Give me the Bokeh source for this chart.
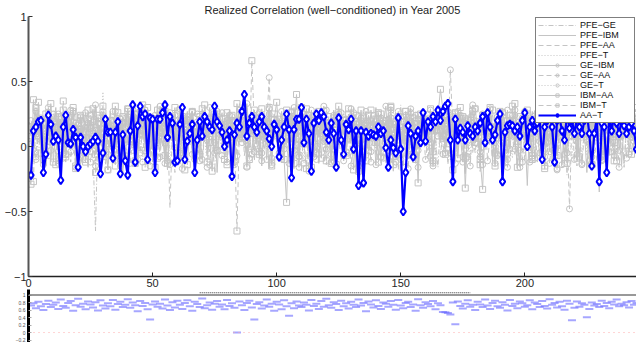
from bokeh.plotting import figure
from bokeh.models import (ColumnDataSource, Range1d, FixedTicker, Legend, LegendItem,
                          Span, CustomJSTickFormatter)
from bokeh.layouts import column
from bokeh.embed import file_html
from bokeh.resources import INLINE

TITLE = "Realized Correlation (well\u2212conditioned) in Year 2005"
x_ticks = [0, 50, 100, 150, 200]
y_ticks = [-1, -0.5, 0, 0.5, 1]
panel_ticks = [-0.2, 0, 0.2, 0.4, 0.6, 0.8, 1]
names = ["PFE\u2212GE", "PFE\u2212IBM", "PFE\u2212AA", "PFE\u2212T", "GE\u2212IBM",
         "GE\u2212AA", "GE\u2212T", "IBM\u2212AA", "IBM\u2212T", "AA\u2212T"]

PFE_GE = [.10,.05,.18,-.08,.22,.12,-.15,.08,.25,.02,.14,-.05,.20,.09,-.12,.16,.28,.04,-.02,.11,
          .19,-.10,.07,.24,.13,-.06,-.65,.15,.03,.21,-.14,.09,.26,.01,.17,-.09,.12,.23,.05,-.18,
          .14,.08,.30,-.03,.11,.19,-.11,.06,.22,.13,-.07,.18,.02,.25,.10,-.16,.15,.08,.27,-.04,
          .12,.20,-.09,.05,.17,.29,.03,-.13,.16,.09,.24,-.02,.13,.07,-.20,.18,.26,.04,.11,-.06,
          .21,.10,-.12,.15,.33,.06,.19,-.05,.12,.23,.00,.16,-.10,.27,.08,.14,-.17,.20,.05,.13,
          -.08,.18,.24,.02,.11,.31,-.04,.15,.07,-.19,.22,.12,.05,.26,-.07,.17,.09,.28,-.11,.14,
          .06,.20,-.14,.10,.25,.03,.16,-.09,.21,.12,.30,-.02,.08,.18,-.15,.13,.24,.04,.19,-.06,
          .11,.27,.05,-.13,.17,.09,.22,-.04,.14,.32,.01,.18,-.10,.12,.25,.07,-.18,.20,.10,.15,
          -.03,.23,.13,.06,-.16,.19,.28,.02,.12,-.08,.21,.15,.04,.26,-.12,.10,.17,.31,-.05,.14,
          .08,-.20,.18,.24,.06,.13,-.09,.22,.11,.29,.03,-.14,.16,.20,.07,-.06,.25,.12,.18,-.11,
          .15,.05,.27,-.08,.19,.10,.23,-.15,.12,.30,.04,.17,-.07,.21,.09,.14,-.22,.18,.26,.02,
          .11,-.10,.20,.13,.28,-.05,.16,.08,.24,-.13,.19,.06,.22,.12,-.09,.17,.27,.03,.14,-.16,
          .21,.09,.15,-.04,.18]

PFE_IBM = [.15,.22,.08,.28,-.05,.19,.11,.26,-.12,.17,.30,.06,.21,-.08,.14,.24,.02,.18,.29,-.10,
           .12,.25,.07,-.16,.20,.13,.31,.04,.17,-.09,.23,.10,.27,-.03,.16,.21,.08,-.21,.14,.26,
           .05,.19,-.13,.24,.11,.29,.03,.18,-.07,.22,.14,.32,-.02,.15,.09,-.18,.20,.25,.06,.13,
           -.11,.21,.16,.27,.04,.12,-.14,.19,.23,.08,.30,-.06,.17,.11,.25,-.20,.14,.06,.22,.18,
           .28,-.09,.13,.20,.05,.24,.16,-.12,.21,.10,.26,.02,.18,-.15,.23,.12,.29,-.04,.15,.19,
           .07,.22,-.10,.17,.27,.09,-.17,.20,.14,.31,.03,.19,-.08,.24,.11,.16,-.13,.26,.06,.21,
           .13,-.06,.28,.17,.08,.23,-.11,.15,.20,.04,.27,-.16,.12,.22,.09,.25,-.03,.18,.14,.30,
           -.09,.16,.21,.07,.26,.13,-.19,.19,.24,.05,.17,-.07,.28,.11,.22,-.12,.15,.20,.08,.25,
           .14,-.14,.23,.10,.29,.03,.18,-.05,.21,.16,.26,-.10,.12,.24,.07,-.21,.19,.27,.13,.04,
           .20,-.08,.15,.25,.11,.30,-.12,.17,.22,.06,.28,.14,-.05,.19,.23,.09,-.17,.16,.26,.12,
           -.30,.21,.08,.27,.15,-.09,.24,.18,.05,.29,-.13,.12,.20,.26,.07,-.06,.22,.16,.31,.10,
           .19,-.11,.25,.13,-.20,.21,.08,.27,.16,-.35,.23,.12,.28,-.07,.17,.22,.05,.26,-.14,.18,
           .24,.11,.20,.15,.09]

PFE_AA = [.05,-.10,.12,.18,-.02,.09,-.15,.14,.03,.20,-.08,.11,.16,-.05,.07,.22,-.12,.10,.01,.15,
          -.18,.08,.19,-.03,.13,.04,-.11,.17,.06,.23,-.07,.10,.02,.16,-.14,.12,.21,-.01,.08,-.09,
          .14,.03,.18,-.16,.11,.07,.24,-.05,.13,-.12,.19,.02,.09,.15,-.08,.20,-.47,.12,-.20,.10,
          .04,.17,-.06,.13,.22,-.10,.08,.01,.16,-.13,.11,.19,-.04,.07,.14,.12,.12,.05,.21,-.02,
          .09,.18,-.15,.06,.13,.25,-.07,.10,.03,.17,-.11,.14,.08,.20,-.03,.12,-.17,.15,.05,.19,
          -.06,.11,.16,.02,-.12,.18,.09,.23,-.04,.13,.06,-.19,.15,.10,.21,-.08,.12,.04,.17,-.14,
          .08,.20,-.02,.14,.07,-.10,.18,.11,.25,-.06,.09,.15,-.16,.12,.03,.19,-.09,.13,.22,.01,
          .10,-.13,.16,.06,.21,-.04,.12,.18,-.18,.09,.14,.02,.20,-.07,.11,.17,-.12,.08,.24,.05,
          -.10,.13,.19,.03,.15,-.06,.10,.22,-.14,.07,.16,.11,-.03,.18,.05,-.21,.12,.20,.08,-.05,
          .14,.09,-.11,.17,.04,.23,-.08,.12,.06,.19,-.16,.10,.15,-.02,.21,.07,-.13,.11,.18,.03,
          .16,-.07,.09,.20,-.12,.13,.05,.24,-.04,.11,.17,-.19,.08,.14,.02,.22,-.10,.12,.06,.18,
          -.15,.10,.16,.04,.21,-.06,.13,.08,-.11,.19,.07,.15,-.03,.12,.23,-.09,.17,.05,.11,-.13,
          .14,.08,.19,.02,.12]

PFE_T = [.12,.18,.06,.24,.10,-.04,.20,.15,.08,.27,.02,.17,-.09,.13,.22,.05,.19,-.02,.14,.25,
         .09,.16,-.06,.21,.11,.28,.04,.18,.13,.42,.07,.20,-.03,.15,.26,.10,.17,-.08,.23,.12,
         .19,.05,.14,.29,-.05,.16,.22,.08,.18,-.10,.24,.13,.06,.20,.15,-.01,.27,.11,.17,.09,
         .23,-.07,.14,.19,.06,.25,.12,-.11,.18,.21,.03,.16,.28,.08,-.04,.22,.14,.10,.26,.01,
         .15,.20,-.09,.13,.24,.07,.18,.30,.05,-.06,.21,.12,.16,.09,.27,-.02,.19,.14,.23,.04,
         .11,-.08,.22,.17,.06,.26,.13,.19,-.12,.15,.24,.08,.20,.02,.17,.29,-.05,.12,.21,.14,
         .07,.25,.16,-.10,.19,.11,.28,.05,.18,.13,-.07,.22,.15,.09,.26,.03,.20,-.03,.16,.24,
         .10,.18,-.09,.23,.14,.07,.27,.12,-.04,.19,.21,.06,.15,.31,.08,-.13,.20,.16,.11,.25,
         .04,.17,.22,-.06,.14,.28,.09,.19,.13,-.11,.24,.07,.18,.12,.26,.01,.15,-.08,.21,.17,
         .08,.23,.14,-.03,.19,.27,.06,.16,-.14,.12,.25,.10,.20,.05,-.09,.22,.15,.18,.29,.03,
         .13,-.06,.21,.16,.09,.26,.12,-.18,.17,.23,.07,.14,.30,-.02,.19,.11,.24,.06,-.10,.18,
         .15,.22,.04,.17,-.07,.25,.12,.20,.08,.16,-.13,.23,.14,.19,.05,.27,-.04,.13,.21,.10,
         .17,.06,.22,.14,.09]

GE_IBM = [.20,.14,.27,.08,.22,-.06,.17,.30,.11,.19,.04,.25,.13,-.09,.21,.16,.28,.07,.18,-.12,
          .23,.10,.26,.15,-.04,.19,.32,.09,.17,.24,-.08,.14,.20,.06,.27,.12,-.15,.22,.18,.29,
          .05,.16,.25,-.10,.21,.13,.28,.08,.19,-.03,.24,.15,.31,.10,-.13,.18,.26,.07,.20,.14,
          .29,-.07,.17,.23,.11,.27,.04,.19,-.11,.25,.16,.09,.30,.13,-.05,.21,.18,.26,.02,.15,
          .24,.12,-.14,.20,.28,.07,.17,.33,.10,-.06,.22,.16,.26,.05,.19,-.10,.25,.13,.21,.08,
          .18,.27,-.02,.15,.23,.11,.30,.06,-.16,.20,.25,.14,.09,.28,-.08,.17,.22,.12,.31,.04,
          .16,-.12,.24,.19,.08,.26,.13,-.04,.21,.29,.10,.17,.23,-.09,.14,.27,.06,.20,.15,-.14,
          .25,.11,.18,.31,-.03,.22,.14,.07,.27,-.10,.19,.24,.12,.29,.05,-.07,.21,.16,.26,.09,
          .13,.28,-.15,.20,.17,.24,.06,.30,.11,-.05,.23,.18,.27,.08,-.12,.22,.14,.19,.32,.03,
          .17,-.08,.25,.12,.21,.29,.07,-.13,.19,.26,.15,.10,.28,-.02,.20,.24,.09,-.16,.18,.27,
          .06,.22,.14,-.09,.26,.19,.31,.05,.16,-.04,.24,.13,.28,.11,-.14,.21,.17,.25,.08,.30,
          -.06,.19,.23,.12,.27,-.11,.15,.22,.18,.29,.04,-.08,.20,.26,.14,.09,.31,-.03,.17,.24,
          .13,.21,.07,.25,.16]

GE_AA = [.02,.10,-.08,.15,.05,-.14,.12,.20,-.03,.08,.17,-.11,.06,.13,-.06,.19,.01,.11,-.16,.09,
         .14,-.04,.07,.18,-.12,.03,.12,.22,-.07,.10,.04,-.18,.15,.08,-.02,.13,.21,-.09,.06,.16,
         -.13,.09,.02,.17,-.05,.12,.24,.04,-.15,.11,.07,.19,-.08,.14,.03,-.11,.16,.10,-.01,.20,
         .06,-.17,.13,.08,.21,-.06,.11,.02,.18,-.10,.15,.05,-.14,.12,.23,-.03,.09,.16,.01,-.12,
         .14,.07,.19,-.07,.10,.03,.17,-.16,.12,.22,-.04,.08,.15,-.11,.06,.18,.53,-.09,.13,.20,
         -.05,.11,.04,.16,-.13,.09,.21,.01,-.08,.14,.07,.18,-.19,.12,.03,.23,-.06,.10,.15,-.02,
         .08,.19,-.11,.13,.05,.17,-.07,.11,.20,-.15,.09,.14,.02,.22,-.04,.10,.10,-.12,.16,.06,
         .18,-.08,.12,.03,.21,-.14,.09,.15,-.05,.11,.19,.04,-.17,.13,.07,.24,-.03,.10,.16,-.10,
         .05,.14,-.13,.20,.08,.12,-.06,.17,.02,.59,.11,.15,.09,.22,-.08,.13,.04,-.15,.18,.07,
         .10,-.04,.16,.21,-.11,.08,.13,.03,-.07,.19,.12,.06,-.16,.14,.24,-.02,.09,.17,-.12,.11,
         .05,.20,-.09,.13,.16,-.05,.10,.22,.03,-.13,.08,.08,-.18,.12,.19,-.06,.15,-.48,.21,-.10,
         .09,.14,-.14,.11,.18,.02,-.08,.16,.07,.23,-.11,.12,.05,.19,-.04,.10,.15,-.16,.08,.13,
         .17,-.06,.11,.04,.14]

GE_T = [.08,.16,-.10,.21,.12,.04,.18,-.07,.14,.25,.09,-.13,.17,.06,.22,.11,-.04,.19,.13,.02,
        .20,-.09,.15,.07,.24,.12,-.15,.18,.10,.03,.21,-.06,.14,.27,.08,.16,-.11,.19,.05,.23,
        .12,-.03,.17,.26,.09,-.12,.20,.14,.06,.22,-.08,.15,.11,.28,.02,.18,-.14,.13,.24,.07,
        -.05,.19,.13,.21,.04,.16,-.10,.25,.11,.18,.08,-.16,.22,.14,.03,.27,.10,-.07,.17,.20,
        .09,.23,-.12,.15,.06,.26,.13,.01,-.09,.19,.24,.11,.16,-.05,.21,.08,.29,-.14,.14,.18,
        .05,-.08,.22,.12,.17,.27,-.03,.10,.20,.15,-.13,.24,.07,.18,.11,-.10,.23,.16,.04,.28,
        .13,-.06,.19,.09,.25,.14,-.11,.21,.06,.17,.26,.02,-.15,.20,.12,.18,.08,-.04,.24,.15,
        .10,.22,-.09,.16,.05,.28,.13,-.12,.19,.23,.07,.15,-.07,.26,.11,.18,-.16,.21,.09,.14,
        .25,.03,-.11,.18,.22,.12,.08,-.05,.27,.15,.19,-.13,.10,.24,.06,.20,-.08,.16,.13,.29,
        .02,.17,-.14,.21,.11,.25,.07,.15,-.06,.19,.23,.12,-.10,.18,.08,.28,.14,-.03,.22,.16,
        .09,-.12,.20,.13,.26,.04,.17,-.08,.23,.11,.15,.06,-.17,.19,.24,.10,-.05,.21,.14,.27,
        .07,.18,-.13,.22,.12,.16,-.04,.25,.09,.20,-.10,.14,.27,.05,.18,-.07,.23,.11,.15,.19,
        -.09,.16,.21,.08,.13]

IBM_AA = [-.29,.36,.10,.34,-.05,.18,.25,.08,.33,-.12,.15,.22,.05,.28,-.08,.19,.12,.30,-.15,.16,
          .24,.07,-.10,.21,.14,.29,-.06,.17,.11,.26,.02,-.18,.20,.13,.31,.06,-.09,.23,.15,.27,
          .04,.19,-.13,.25,.10,.32,-.03,.16,.22,.08,-.16,.28,.12,.18,-.07,.24,.14,.09,.30,-.11,
          .17,.23,.05,-.14,.20,.27,.11,.16,-.06,.29,.13,.21,.03,-.19,.18,.25,.08,.14,-.10,.26,
          .12,.20,-.08,.33,.15,.06,.24,-.15,.19,.10,.28,.02,-.04,.22,.17,.13,.30,-.12,.21,.34,
          .09,.16,-.10,-.43,.18,.26,.11,.40,-.07,.21,.14,.29,.05,-.16,.23,.12,.19,-.09,.27,.15,
          .08,-.13,.22,.17,.31,.04,.20,-.05,.25,.13,-.18,.19,.10,.28,.06,-.11,.24,.16,.21,.03,
          .26,-.08,.14,.20,.09,.30,-.14,.17,.23,.12,.05,.27,-.06,.18,.22,.10,-.28,.25,.15,.07,
          .19,.12,-.04,.16,.24,.44,.28,.09,.13,.21,.06,.26,-.09,.17,.23,-.32,.14,.20,.12,.29,
          .12,-.10,-.33,.18,.07,.30,.15,-.15,.22,.27,.09,.19,-.05,.24,.13,.33,.04,-.12,.20,.17,
          .28,.10,-.07,.23,.16,.35,.06,-.17,.21,.14,.26,-.03,.19,.11,.29,-.13,.24,.08,.17,.22,
          -.09,.27,.13,.20,.05,.31,-.14,.18,.25,.36,.10,-.06,.22,.15,.28,.03,-.11,.19,.26,.14,
          .21,-.04,.17,.30,.12]

IBM_T = [.15,-.27,.30,.08,.21,-.10,.17,.26,.04,.19,-.14,.23,.11,.35,-.06,.18,.09,.27,-.17,.13,
         .22,.05,-.12,.28,.16,.10,-.20,.24,.07,.31,-.04,.14,.20,.02,-.15,.26,.12,.18,-.08,.29,
         .06,.21,-.11,.17,.25,.09,-.16,.30,.13,.19,.03,-.09,.24,.15,.27,-.13,.08,.22,.16,-.05,
         .28,.11,-.18,.20,.14,.26,.05,-.07,.23,.17,.32,-.12,.10,.19,.25,-.03,.15,.21,.08,-.14,
         .18,.24,.07,-.65,.13,.20,.27,.09,-.10,.66,.16,.22,-.06,.29,.12,.19,.04,-.15,.25,.14,
         .21,-.09,.17,.28,.06,.23,-.13,.19,.12,.30,.02,-.17,.24,.15,.20,-.05,.27,.10,.16,-.11,
         .23,.08,.18,-.14,.26,.13,.21,-.07,.29,.05,.17,.24,-.19,.11,.22,.16,-.03,.28,.09,.19,
         -.12,.25,.14,.20,.07,.31,-.08,.18,.23,.11,-.16,.27,.13,.19,.04,-.10,.24,.17,.21,.06,
         .16,.29,-.11,.22,.13,.26,.08,-.06,.20,.14,-.18,.25,.10,.30,.17,-.09,.21,.12,.27,.03,
         .19,-.14,.24,.15,.22,.07,.28,-.05,.17,.11,.26,-.12,.20,.14,.31,.09,-.16,.23,.18,.13,
         .25,.06,-.10,.21,.16,.29,.12,-.15,.24,.19,.08,.27,-.07,.14,.22,.36,-.13,.18,.26,.10,
         .17,-.08,.23,.13,.30,.05,-.14,.20,.25,.11,.18,-.04,.28,.15,.21,-.11,.24,.09,.19,.16,
         .22,.12,-.06,.18,.26]

AA_T = [-.22,.12,.15,.19,.20,-.20,-.06,.24,.17,.04,.08,.05,-.26,.15,.24,.03,.02,.13,.07,-.16,
        .07,.00,-.04,.00,.02,.04,.07,.04,-.21,-.05,.21,.11,.11,-.09,.11,.19,-.21,.09,-.11,-.22,
        .12,.32,-.12,.16,.31,.23,.25,-.10,.22,.21,-.20,.21,.21,.26,.32,.07,.23,.18,-.12,-.11,
        .17,.30,-.10,.04,.10,.17,-.20,.05,.19,.08,.23,.19,.15,.13,.31,.19,.16,.11,.00,.05,
        .12,-.23,.09,.18,.15,.27,.40,.08,.18,.23,.15,.11,.19,.23,.15,.12,.06,.00,.17,.13,
        -.08,.05,.15,.25,.13,-.24,.13,.21,.21,.30,.03,.21,.10,-.19,.18,.25,.20,.26,.23,.11,
        .05,.18,.10,-.16,.22,.05,-.06,.17,.13,.21,-.02,.12,-.30,.12,-.28,.11,.08,.10,.09,.08,
        .15,.10,.12,-.01,-.16,.05,-.01,-.05,.22,-.02,-.50,-.20,.16,.10,-.08,.08,.12,.03,.26,.04,
        .19,.15,.23,.19,.28,.20,.27,.31,.33,.05,-.27,.21,.05,.14,.11,.05,.16,.10,.08,.15,
        .12,.18,.23,.03,.26,.15,.05,.09,.20,.25,-.27,.11,.16,.17,.16,.12,.15,.08,.20,.26,
        .00,.15,.20,.12,.18,.21,-.10,.15,.20,.25,.15,-.12,.20,.22,.12,.05,.25,.14,.20,.10,
        .22,.15,.10,.20,.25,.10,-.15,.10,.22,-.27,.18,.15,-.20,.23,.12,.25,.18,.10,.20,.16,
        .10,.15,.18,.12,-.02]

PANEL = [.72,.78,.65,.82,.70,.60,.76,.85,.68,.74,.80,.63,.88,.71,.66,.79,.84,.58,.73,.90,
         .69,.77,.62,.83,.75,.67,.81,.59,.86,.72,.64,.78,.70,.87,.61,.76,.82,.68,.74,.89,
         .66,.80,.73,.57,.84,.71,.79,.62,.35,.75,.83,.69,.77,.64,.88,.72,.60,.81,.67,.85,
         .74,.63,.79,.86,.70,.58,.82,.76,.68,.91,.65,.73,.80,.61,.77,.84,.69,.75,.62,.87,
         .71,.78,.66,.00,.83,.73,.60,.79,.85,.67,.35,.76,.81,.64,.72,.88,.69,.77,.58,.82,
         .75,.62,.86,.70,.45,.78,.65,.83,.72,.68,.80,.74,.59,.87,.71,.77,.63,.84,.69,.90,
         .73,.66,.81,.76,.60,.85,.70,.78,.64,.82,.74,.68,.88,.72,.79,.57,.83,.75,.67,.86,
         .71,.63,.80,.77,.69,.84,.74,.61,.87,.72,.65,.79,.82,.68,.75,.58,.89,.73,.66,.81,
         .76,.70,.84,.62,.78,.73,.55,.54,.52,.48,.80,.22,.83,.71,.64,.77,.86,.69,.74,.60,
         .82,.75,.68,.88,.72,.63,.79,.85,.70,.66,.81,.74,.59,.87,.71,.77,.65,.83,.78,.69,
         .73,.86,.62,.80,.76,.68,.84,.71,.64,.89,.74,.79,.67,.82,.70,.61,.85,.77,.33,.66,
         .83,.69,.78,.74,.41,.63,.80,.72,.76,.68,.85,.71,.79,.65,.82,.75,.88,.70,.77,.73,
         .81,.67,.84,.74,.79]
PANEL_DOT_X = [69, 178]
PANEL_DOT_Y = [1.06, 1.06]

series = [PFE_GE, PFE_IBM, PFE_AA, PFE_T, GE_IBM, GE_AA, GE_T, IBM_AA, IBM_T, AA_T]

FONT = "Liberation Sans"
GREY = "#c4c4c4"
styles = [("dashdot", None), ("solid", None), ("dashed", None), ("dotted", None),
          ("solid", "circle"), ("dashed", "circle"), ("dotted", "circle"),
          ("solid", "square"), ("dashed", "square"), ("solid", "diamond")]
dash_map = {"solid": "solid", "dashed": "5 3", "dotted": "1 2", "dashdot": "5 2 1 2"}

minus_fmt = CustomJSTickFormatter(code="return tick < 0 ? '\u2212' + String(-tick) : String(tick);")

p1 = figure(width=636, height=289, x_range=Range1d(0, 245), y_range=Range1d(-1, 1),
            output_backend="svg", toolbar_location=None,
            min_border_left=28, min_border_right=0, min_border_top=0, min_border_bottom=0)
p1.title.text = TITLE
p1.title.align = "center"
p1.title.text_font = FONT
p1.title.text_font_size = "11px"
p1.title.text_font_style = "normal"
p1.title.text_color = "#222222"
p1.title.standoff = 2
p1.outline_line_color = None
p1.grid.visible = False
p1.background_fill_color = "white"

for ax in (p1.xaxis[0], p1.yaxis[0]):
    ax.major_tick_in = 4
    ax.major_tick_out = 0
    ax.minor_tick_line_color = None
    ax.major_label_text_font = FONT
    ax.major_label_text_font_size = "11px"
    ax.major_label_text_color = "#262626"
    ax.major_label_standoff = 2
p1.xaxis.ticker = FixedTicker(ticks=x_ticks)
p1.yaxis.ticker = FixedTicker(ticks=y_ticks)
p1.yaxis.formatter = minus_fmt
p1.xaxis.axis_line_color = "#222222"
p1.xaxis.axis_line_width = 1.5
p1.xaxis.major_tick_line_color = "#222222"
p1.yaxis.axis_line_color = "#555555"
p1.yaxis.axis_line_width = 2
p1.yaxis.major_tick_line_color = "#333333"

items = []
for name, vals, (dash, marker) in zip(names, series, styles):
    src = ColumnDataSource(dict(x=list(range(1, len(vals) + 1)), y=vals))
    rs = []
    if name == names[-1]:
        rs.append(p1.line("x", "y", source=src, line_color="#0000ff", line_width=2.2))
        rs.append(p1.scatter("x", "y", source=src, marker="diamond", size=8,
                             line_color="#0000ff", line_width=2, fill_color="white"))
    else:
        rs.append(p1.line("x", "y", source=src, line_color=GREY, line_width=1,
                          line_dash=dash_map[dash]))
        if marker:
            rs.append(p1.scatter("x", "y", source=src, marker=marker, size=6,
                                 line_color=GREY, line_width=1, fill_color=None))
    items.append(LegendItem(label=name, renderers=rs))

legend = Legend(items=items, location="top_right", margin=1, padding=2, spacing=0,
                glyph_width=38, glyph_height=8, label_height=8, label_standoff=4,
                label_width=52,
                label_text_font=FONT, label_text_font_size="9px",
                label_text_color="#111111",
                border_line_color="black", border_line_width=1,
                background_fill_color="white", background_fill_alpha=1)
p1.add_layout(legend)

# lower (cut-off) panel
p2 = figure(width=636, height=53, x_range=p1.x_range, y_range=Range1d(-0.266, 1.147),
            output_backend="svg", toolbar_location=None,
            min_border_left=28, min_border_right=0, min_border_top=0, min_border_bottom=0)
p2.outline_line_color = None
p2.grid.visible = False
p2.xaxis.visible = False
p2.yaxis.ticker = FixedTicker(ticks=panel_ticks)
p2.yaxis.formatter = minus_fmt
p2.yaxis.major_label_text_font = FONT
p2.yaxis.major_label_text_font_size = "5px"
p2.yaxis.major_label_text_color = "#555555"
p2.yaxis.major_tick_in = 3
p2.yaxis.major_tick_out = 0
p2.yaxis.major_tick_line_color = "#aaaaaa"
p2.yaxis.minor_tick_line_color = None
p2.yaxis.axis_line_color = "black"
p2.yaxis.axis_line_width = 3
p2.yaxis.major_label_standoff = 3
p2.add_layout(Span(location=1, dimension="width", line_color="#777777", line_width=1.5))
p2.add_layout(Span(location=0, dimension="width", line_color="#ffaaaa", line_width=1,
                   line_dash="1 4"))
p2.line(PANEL_DOT_X, PANEL_DOT_Y, line_color="#333333", line_width=1, line_dash="1 1")
psrc = ColumnDataSource(dict(x=list(range(1, len(PANEL) + 1)), y=PANEL))
p2.scatter("x", "y", source=psrc, marker="dash", size=8, line_color="#6a6aff",
           line_width=2, line_alpha=0.6)

layout = column(p1, p2, spacing=0)
open("out.html", "w").write(file_html(layout, INLINE))
